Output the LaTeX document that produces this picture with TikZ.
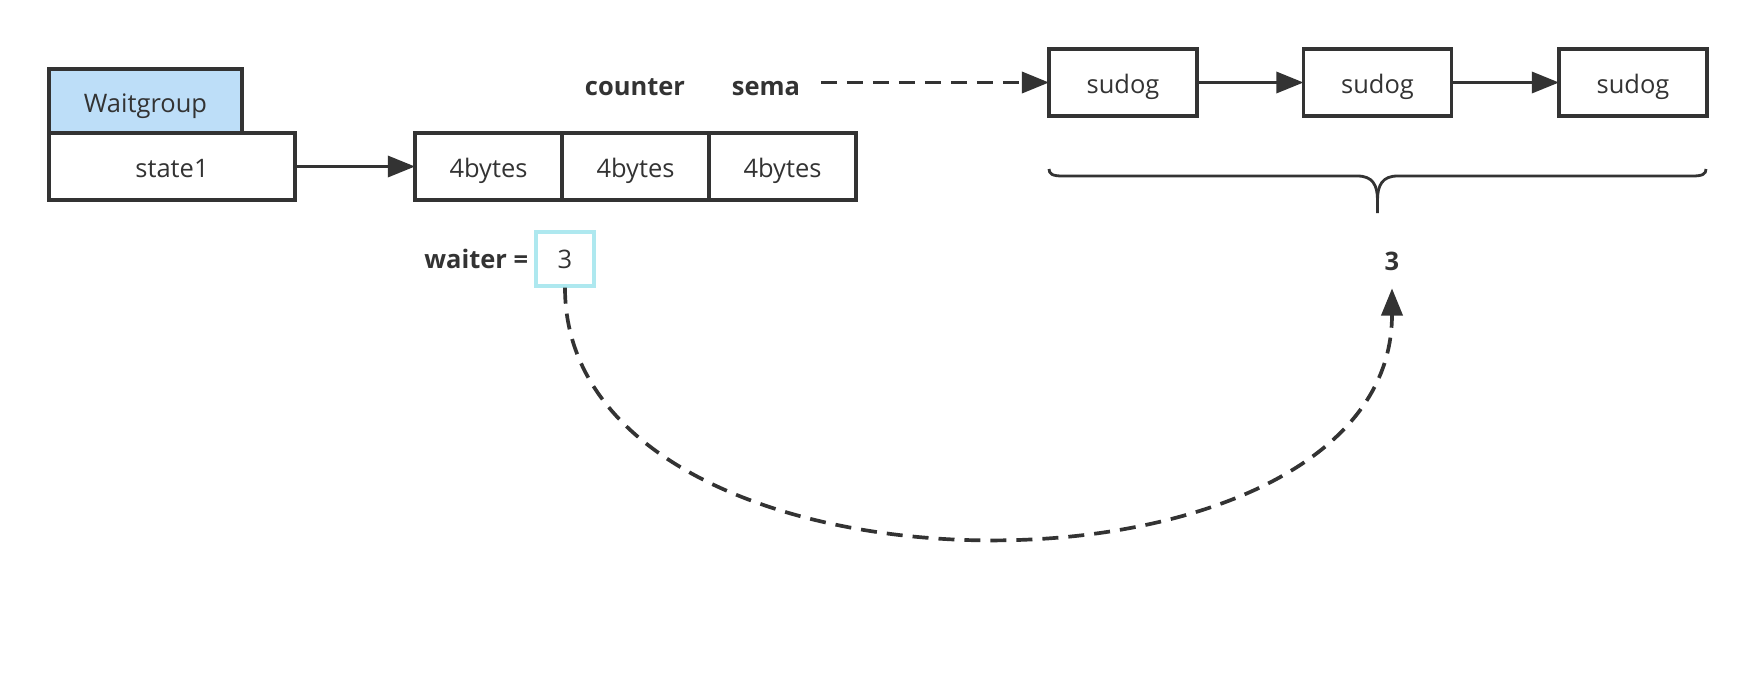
\documentclass[tikz,border=0pt]{standalone}
\usepackage{fontspec}
\setmainfont{Open Sans}
\usepackage{xcolor}
\usetikzlibrary{positioning,arrows.meta}
\definecolor{linegray}{HTML}{333333}
\definecolor{wgblue}{HTML}{BDDEF8}
\definecolor{waitcyan}{HTML}{AEE8EF}

\begin{document}
\begin{tikzpicture}[
  font=\fontsize{14.5}{17}\selectfont, text=linegray,
  cell/.style={draw=linegray, line width=1.9pt, minimum height=1.34cm, inner sep=0pt, outer sep=0pt, text height=1.3em, text depth=0pt},
  lbl/.style={font=\fontsize{14.5}{17}\selectfont\bfseries, text height=1.1em, text depth=0pt},
  link/.style={draw=linegray, line width=1.9pt, -{Triangle[length=15.5pt,width=12pt]}},
  dashlink/.style={link, line width=2.1pt, dash pattern=on 0.32cm off 0.2cm},
]
  \useasboundingbox (0,0) rectangle (35.12,-13.44);

  % Waitgroup struct
  \node[cell, minimum width=4.92cm] (st) at (3.44,-3.33) {state1};
  \node[cell, fill=wgblue, minimum width=3.86cm, minimum height=1.28cm, anchor=south west] (wg) at (st.north west) {Waitgroup};

  % state1 words
  \node[cell, minimum width=2.94cm] (b1) at (9.77,-3.33) {4bytes};
  \node[cell, minimum width=2.94cm, right=0pt of b1] (b2) {4bytes};
  \node[cell, minimum width=2.94cm, right=0pt of b2] (b3) {4bytes};
  \node[lbl] (ctr) at (12.70,-1.72) {counter};
  \node[lbl] (sema) at (15.32,-1.72) {sema};

  % waiter
  \node[draw=waitcyan, line width=1.9pt, minimum width=1.16cm, minimum height=1.08cm, text height=1.1em, text depth=0pt] (wv) at (11.3,-5.18) {3};
  \node[lbl, left=0pt of wv] (wtxt) {waiter =};

  % sudog queue
  \node[cell, minimum width=2.96cm] (s1) at (22.46,-1.65) {sudog};
  \node[cell, minimum width=2.96cm] (s2) at (27.55,-1.65) {sudog};
  \node[cell, minimum width=2.96cm] (s3) at (32.66,-1.65) {sudog};

  % brace under the queue
  \draw[linegray, line width=1.6pt] (20.98,-3.38) .. controls (20.98,-3.48) and (21.05,-3.52) .. (21.25,-3.52) -- (27.15,-3.52)
    .. controls (27.45,-3.52) and (27.55,-3.7) .. (27.55,-4.0) -- (27.55,-4.26);
  \draw[linegray, line width=1.6pt] (34.12,-3.38) .. controls (34.12,-3.48) and (34.05,-3.52) .. (33.85,-3.52) -- (27.95,-3.52)
    .. controls (27.65,-3.52) and (27.55,-3.7) .. (27.55,-4.0);
  \node[lbl, minimum height=1.08cm] (num) at (27.84,-5.22) {3};

  % connections
  \draw[link] (st) -- (b1);
  \draw[dashlink, shorten <=0.29cm] (sema.east |- s1) -- (s1);
  \draw[link] (s1) -- (s2);
  \draw[link] (s2) -- (s3);
  \draw[dashlink] (wv.south) .. controls +(0,-6.64) and +(0,-6.64) .. (num.south);

\end{tikzpicture}
\end{document}
